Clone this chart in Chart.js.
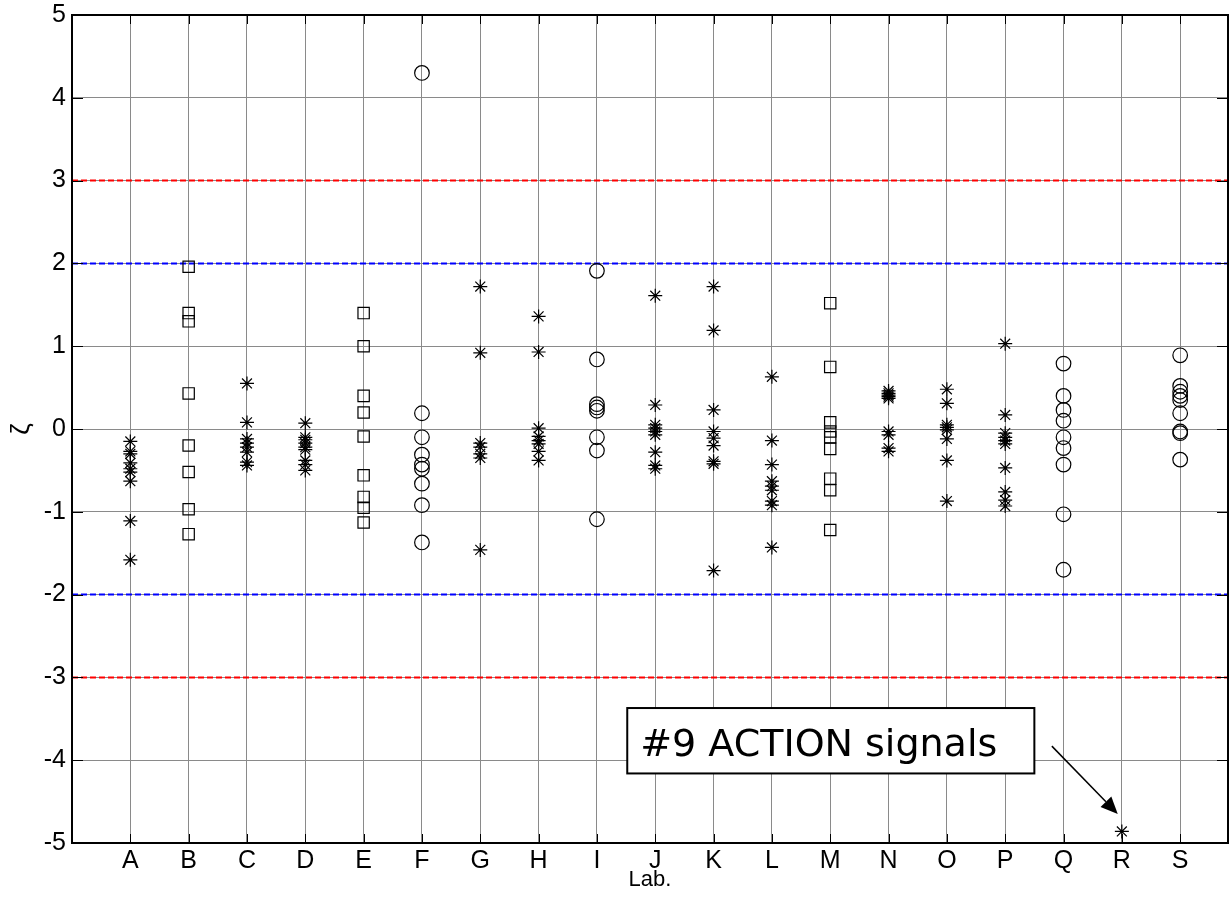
<!DOCTYPE html>
<html>
<head>
<meta charset="utf-8">
<script src="https://cdn.jsdelivr.net/npm/chart.js@4"></script>
<style>
  html, body { margin: 0; padding: 0; background: #fff; }
  #wrap { width: 1232px; height: 900px; }
</style>
</head>
<body>
<div id="wrap"><canvas id="myChart" width="1232" height="900"></canvas></div>
<script>
// labs and their z-scores
var labs = ["A","B","C","D","E","F","G","H","I","J","K","L","M","N","O","P","Q","R","S"];

var zA = [-0.15, -0.27, -0.30, -0.41, -0.48, -0.52, -0.63, -1.11, -1.58];
var zB = [1.96, 1.40, 1.30, 0.43, -0.20, -0.52, -0.97, -1.27];
var zC = [0.55, 0.08, -0.12, -0.17, -0.22, -0.28, -0.40, -0.44];
var zD = [0.07, -0.10, -0.13, -0.17, -0.22, -0.25, -0.38, -0.43, -0.50];
var zE = [1.40, 1.00, 0.40, 0.20, -0.09, -0.56, -0.82, -0.95, -1.13];
var zF = [4.30, 0.19, -0.10, -0.31, -0.43, -0.48, -0.66, -0.92, -1.37];
var zG = [1.72, 0.92, -0.17, -0.22, -0.30, -0.35, -1.46];
var zH = [1.36, 0.93, 0.01, -0.09, -0.14, -0.18, -0.27, -0.38];
var zI = [1.91, 0.84, 0.30, 0.26, 0.22, -0.10, -0.26, -1.09];
var zJ = [1.61, 0.29, 0.05, 0.01, -0.03, -0.07, -0.28, -0.44, -0.48];
var zK = [1.72, 1.19, 0.23, -0.03, -0.11, -0.20, -0.39, -0.42, -1.71];
var zL = [0.63, -0.14, -0.43, -0.63, -0.69, -0.74, -0.87, -0.92, -1.43];
var zM = [1.52, 0.75, 0.08, -0.03, -0.10, -0.24, -0.60, -0.74, -1.22];
var zN = [0.46, 0.43, 0.41, 0.39, 0.37, -0.03, -0.07, -0.23, -0.27];
var zO = [0.48, 0.31, 0.05, 0.02, -0.01, -0.12, -0.38, -0.87];
var zP = [1.03, 0.17, -0.05, -0.10, -0.14, -0.18, -0.47, -0.76, -0.86, -0.93];
var zQ = [0.79, 0.40, 0.23, 0.10, -0.10, -0.23, -0.43, -1.03, -1.70];
var zR = [-4.86];
var zS = [0.89, 0.52, 0.45, 0.40, 0.35, 0.19, -0.03, -0.05, -0.37];

var allZ = [zA,zB,zC,zD,zE,zF,zG,zH,zI,zJ,zK,zL,zM,zN,zO,zP,zQ,zR,zS];

// marker used for each lab
var markers = ["star","rect","star","star","rect","circle","star","star","circle","star",
               "star","star","rect","star","star","star","circle","star","circle"];

// warning / action limits
var warnLimits = [2, -2];
var actionLimits = [3, -3];

var yTicks = [-5,-4,-3,-2,-1,0,1,2,3,4,5];
var xMin = 0, xMax = 19.82;

// annotation (data coords)
var noteText = "#9 ACTION signals";
var noteBox = [9.52, -3.37, 16.5, -4.16];
var noteArrow = [16.8, -3.83, 17.93, -4.65];

var FONT = "'Liberation Sans', Arial, sans-serif";

var datasets = [];

allZ.forEach(function (vals, i) {
  var style = markers[i];
  var r = style == "rect" ? 8 : (style == "circle" ? 7.3 : 7);
  datasets.push({
    type: 'scatter',
    label: labs[i],
    data: vals.map(function (v) { return { x: i + 1, y: v }; }),
    pointStyle: style,
    pointRadius: r,
    pointBorderColor: '#000',
    pointBackgroundColor: 'rgba(0,0,0,0)',
    pointBorderWidth: 1.2,
    showLine: false,
    order: 1
  });
});

function limitLine(y, color) {
  return {
    type: 'line',
    data: [{ x: xMin, y: y }, { x: xMax, y: y }],
    borderColor: color,
    borderWidth: 2,
    borderDash: [6, 3],
    pointRadius: 0,
    fill: false,
    order: 2
  };
}
actionLimits.forEach(function (y) { datasets.push(limitLine(y, '#ff0000')); });
warnLimits.forEach(function (y) { datasets.push(limitLine(y, '#0000ff')); });

var framePlugin = {
  id: 'frame',
  afterDraw: function (chart) {
    var ctx = chart.ctx, a = chart.chartArea;
    var xs = chart.scales.x, ys = chart.scales.y;
    ctx.save();
    ctx.strokeStyle = '#000';
    ctx.lineWidth = 1;
    // tick marks (inward)
    ctx.beginPath();
    for (var k = 1; k <= labs.length; k++) {
      var px = Math.round(xs.getPixelForValue(k)) + 0.5;
      ctx.moveTo(px, a.bottom); ctx.lineTo(px, a.bottom - 9);
      ctx.moveTo(px, a.top); ctx.lineTo(px, a.top + 9);
    }
    yTicks.forEach(function (t) {
      var py = Math.round(ys.getPixelForValue(t)) + 0.5;
      ctx.moveTo(a.left, py); ctx.lineTo(a.left + 11, py);
      ctx.moveTo(a.right, py); ctx.lineTo(a.right - 11, py);
    });
    ctx.stroke();
    // box
    ctx.lineWidth = 2;
    ctx.strokeRect(a.left, a.top, a.right - a.left, a.bottom - a.top);

    // annotation box
    var bx1 = xs.getPixelForValue(noteBox[0]), by1 = ys.getPixelForValue(noteBox[1]);
    var bx2 = xs.getPixelForValue(noteBox[2]), by2 = ys.getPixelForValue(noteBox[3]);
    ctx.fillStyle = '#fff';
    ctx.fillRect(bx1, by1, bx2 - bx1, by2 - by1);
    ctx.lineWidth = 2;
    ctx.strokeRect(bx1, by1, bx2 - bx1, by2 - by1);
    ctx.fillStyle = '#000';
    ctx.font = "38px 'DejaVu Sans', Verdana, sans-serif";
    ctx.textBaseline = 'alphabetic';
    ctx.textAlign = 'left';
    ctx.fillText(noteText, bx1 + 13, by1 + 48);

    // arrow
    var ax1 = xs.getPixelForValue(noteArrow[0]), ay1 = ys.getPixelForValue(noteArrow[1]);
    var ax2 = xs.getPixelForValue(noteArrow[2]), ay2 = ys.getPixelForValue(noteArrow[3]);
    var ang = Math.atan2(ay2 - ay1, ax2 - ax1);
    var hl = 17, hw = 7.5;
    ctx.lineWidth = 1.5;
    ctx.beginPath();
    ctx.moveTo(ax1, ay1);
    ctx.lineTo(ax2 - hl * Math.cos(ang), ay2 - hl * Math.sin(ang));
    ctx.stroke();
    ctx.beginPath();
    ctx.moveTo(ax2, ay2);
    ctx.lineTo(ax2 - hl * Math.cos(ang) + hw * Math.sin(ang), ay2 - hl * Math.sin(ang) - hw * Math.cos(ang));
    ctx.lineTo(ax2 - hl * Math.cos(ang) - hw * Math.sin(ang), ay2 - hl * Math.sin(ang) + hw * Math.cos(ang));
    ctx.closePath();
    ctx.fill();
    ctx.restore();
  }
};

var ctx = document.getElementById("myChart");
var myChart = new Chart(ctx, {
  data: { datasets: datasets },
  options: {
    responsive: false,
    animation: false,
    devicePixelRatio: 1,
    layout: { autoPadding: false, padding: { top: 15, right: 4, left: 0, bottom: 0 } },
    plugins: {
      legend: { display: false },
      tooltip: { enabled: false }
    },
    scales: {
      x: {
        type: 'linear',
        min: xMin,
        max: xMax,
        afterFit: function (s) {
          s.height = 57;
          s.paddingLeft = 0; s.paddingRight = 0;
        },
        ticks: {
          stepSize: 1,
          includeBounds: false,
          autoSkip: false,
          maxRotation: 0,
          padding: 3,
          color: '#000',
          font: { family: FONT, size: 25 },
          callback: function (v) { return labs[v - 1] || ''; }
        },
        grid: { color: '#8a8a8a', lineWidth: 1, drawTicks: false },
        border: { display: false },
        title: {
          display: true,
          text: 'Lab.',
          color: '#000',
          font: { family: FONT, size: 22 },
          padding: { top: 0, bottom: 7 }
        }
      },
      y: {
        type: 'linear',
        min: -5,
        max: 5,
        afterFit: function (s) {
          s.width = 72;
          s.paddingTop = 0; s.paddingBottom = 0;
        },
        ticks: {
          stepSize: 1,
          padding: 6,
          color: '#000',
          font: { family: FONT, size: 25 },
          callback: function (v) { return String(v); }
        },
        grid: { color: '#8a8a8a', lineWidth: 1, drawTicks: false },
        border: { display: false },
        title: {
          display: true,
          text: 'ζ',
          color: '#000',
          font: { family: FONT, size: 26 },
          padding: { top: 6, bottom: 0 }
        }
      }
    }
  },
  plugins: [framePlugin]
});
</script>
</body>
</html>
